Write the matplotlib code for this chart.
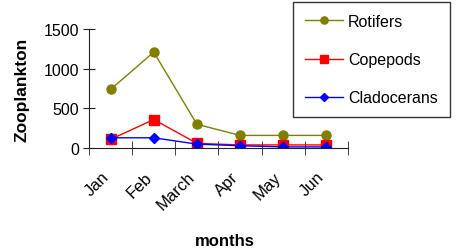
import numpy as np
import matplotlib
matplotlib.use("Agg")
import matplotlib.pyplot as plt
from matplotlib.transforms import ScaledTranslation

plt.rcParams['font.family'] = ['Liberation Sans', 'DejaVu Sans']

months = ["Jan", "Feb", "March", "Apr", "May", "Jun"]
rotifers = [740, 1210, 300, 160, 160, 160]
copepods = [110, 360, 60, 40, 40, 40]
cladocerans = [130, 130, 50, 30, 15, 15]

fig = plt.figure(figsize=(4.59, 2.51), dpi=100)
ax = fig.add_axes([0.194, 0.406, 0.564, 0.474])

x = np.arange(len(months))
ax.plot(x, rotifers, color="#808000", marker="o", markersize=6.5, linewidth=1, label="Rotifers")
ax.plot(x, copepods, color="#ff0000", marker="s", markersize=6.5, linewidth=1, label="Copepods")
ax.plot(x, cladocerans, color="#0000ff", marker="D", markersize=5.5, linewidth=1, label="Cladocerans")

ax.set_xlim(-0.5, len(months) - 0.5)
ax.set_ylim(0, 1500)
ax.set_yticks([0, 500, 1000, 1500])
ax.set_xticks(x)
ax.set_xticklabels(months, rotation=45, ha="right", rotation_mode="anchor", fontsize=12)
ax.set_xticks(np.arange(-0.5, len(months), 1.0), minor=True)
ax.tick_params(axis="x", which="major", length=0, pad=15)
ax.tick_params(axis="x", which="minor", direction="inout", length=10, color="#222222")
ax.tick_params(axis="y", labelsize=11.5, direction="inout", length=8, color="#222222", pad=3)

# shift the rotated month labels a little to the left, like the original
shift = ScaledTranslation(-7 / 72, 0, fig.dpi_scale_trans)
for lbl in ax.get_xticklabels():
    lbl.set_transform(lbl.get_transform() + shift)

for s in ["top", "right"]:
    ax.spines[s].set_visible(False)
for s in ["left", "bottom"]:
    ax.spines[s].set_color("#222222")

ax.set_ylabel("Zooplankton", fontsize=12.5, fontweight="bold", labelpad=10)
fig.text(0.49, 0.02, "months", fontsize=12, fontweight="bold", ha="center")

leg = fig.legend(loc="upper left", bbox_to_anchor=(0.638, 0.988), fontsize=11.5,
                 frameon=True, fancybox=False, edgecolor="black", labelspacing=1.45,
                 handlelength=2.4, handletextpad=0.3, borderpad=0.75, borderaxespad=0,
                 markerscale=0.8)
leg.get_frame().set_linewidth(1)

fig.savefig("out.png", dpi=100)
